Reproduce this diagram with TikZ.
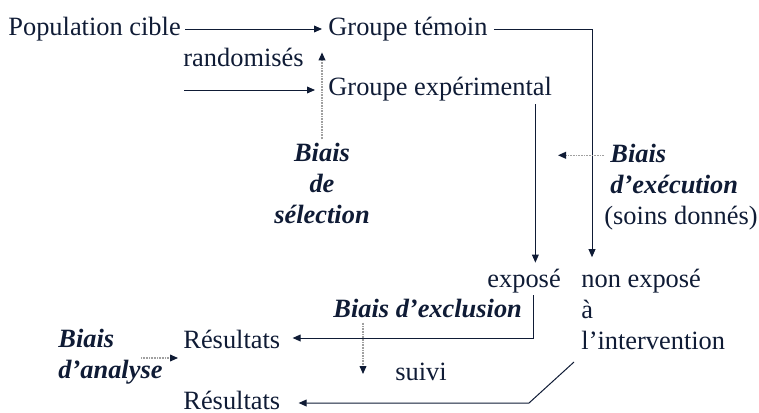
\documentclass[tikz,border=0pt]{standalone}
\usepackage{fontspec}
\setmainfont{Liberation Serif}
\usetikzlibrary{arrows.meta, positioning, calc}
\definecolor{navy}{HTML}{0F1B35}
\definecolor{dotgrey}{HTML}{A0A0A0}
\tikzset{
	lbl/.style={anchor=base west, inner sep=0pt, text=navy, font=\fontsize{13.2}{15.5}\selectfont},
	txt/.style={lbl, text height=9pt, text depth=3pt},
	bias/.style={lbl, font=\fontsize{13.2}{15.5}\selectfont\bfseries\itshape},
	arr/.style={draw=navy, line width=0.5pt, -{Triangle[length=4pt,width=3.4pt]}},
	dotarr/.style={draw=dotgrey, line width=0.6pt, dash pattern=on 0.4pt off 0.4pt, -{Triangle[length=4pt,width=3.4pt,color=navy]}}
}

\begin{document}
\begin{tikzpicture}[x=0.5pt, y=-0.5pt]
		\useasboundingbox (0,0) rectangle (759,412);
		
		%groups
		\node[txt] (pop) at (8,35) {Population cible};
		\node[txt] (temoin) at (328,35) {Groupe témoin};
		\node[txt] (rand) at (183,66) {randomisés};
		\node[txt] (exp) at (328,95) {Groupe expérimental};
		\node[txt] (expose) at (487,287) {exposé};
		\node[lbl, align=left] (nonexp) at (581,349) {non exposé\\à\\l’intervention};
		\node[txt] (res1) at (183,348) {Résultats};
		\node[txt] (suivi) at (395,380) {suivi};
		\node[txt] (res2) at (183,409) {Résultats};
		
		%biases
		\node[bias, anchor=base, align=center] (selec) at (322,223) {Biais\\de\\sélection};
		\node[lbl, align=left] (exec) at (604,224) {\hspace*{3pt}\textbf{\textit{Biais}}\\\hspace*{3pt}\textbf{\textit{d’exécution}}\\(soins donnés)};
		\node[bias] (excl) at (333,317) {Biais d’exclusion};
		\node[bias, align=left] (analyse) at (58,378) {Biais\\d’analyse};
		
		%arrows
		\coordinate (randin) at (184,90);
		\coordinate (an) at (141,358);
		\coordinate (nx) at (574,362);
		\draw[arr, shorten <=2pt, shorten >=3pt] (pop.east) -- (temoin.west);
		\draw[arr, shorten >=6.5pt] (randin) -- (randin -| exp.west);
		\draw[arr, shorten <=3pt, shorten >=5.5pt] (temoin.east) -| ([xshift=5.5pt]nonexp.north west);
		\draw[arr, shorten <=1.5pt, shorten >=3pt] ([xshift=-8.5pt]exp.south east) coordinate (ex) -- (ex |- expose.north);
		\draw[arr, shorten >=6pt] ([xshift=5.5pt, yshift=6.5pt]excl.east) |- ([yshift=2pt]res1.east);
		\draw[arr, shorten >=9pt] (nx) -- ([xshift=-22.5pt]nx |- res2.east) -- (res2.east);
		
		%dotted
		\draw[dotarr, shorten <=1.5pt, shorten >=5.5pt] (selec.north) -- (selec.north |- temoin.south);
		\draw[dotarr] ([yshift=-6pt]exec.north west) -- ++(-46,0);
		\draw[dotarr, shorten <=2.5pt] ([xshift=15pt]excl.south west) coordinate (sv) -- (sv |- suivi);
		\draw[dotarr, shorten >=2.5pt] (an) -- (an -| res1.west);
\end{tikzpicture}
\end{document}
